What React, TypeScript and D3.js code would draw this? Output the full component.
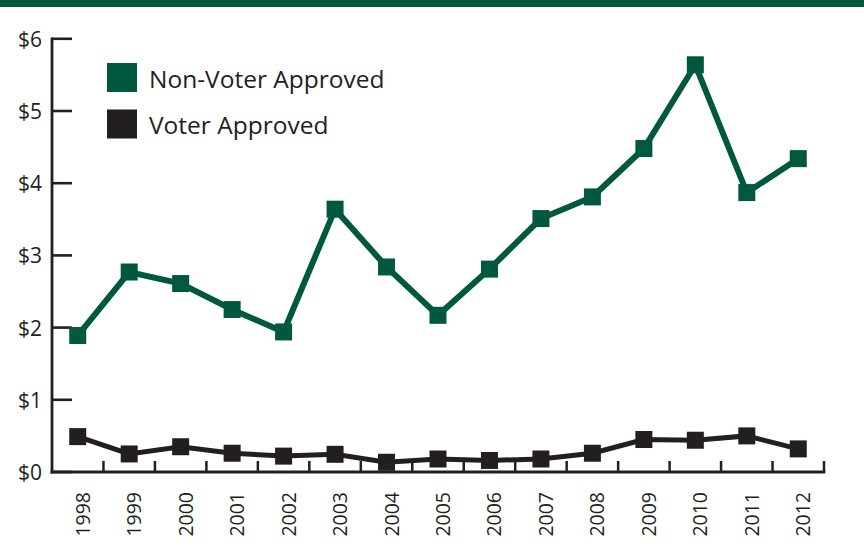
import React from "react";
import * as d3 from "d3";

// Annual totals, in billions of dollars
const years: string[] = [
  "1998", "1999", "2000", "2001", "2002", "2003", "2004", "2005",
  "2006", "2007", "2008", "2009", "2010", "2011", "2012",
];
const nonVoterApproved: number[] = [
  1.89, 2.77, 2.61, 2.25, 1.94, 3.64, 2.84, 2.17, 2.81, 3.51, 3.81, 4.48, 5.64, 3.87, 4.34,
];
const voterApproved: number[] = [
  0.49, 0.25, 0.35, 0.26, 0.22, 0.245, 0.135, 0.18, 0.16, 0.18, 0.26, 0.45, 0.44, 0.5, 0.32,
];
const yTicks: number[] = [0, 1, 2, 3, 4, 5, 6];
const seriesNames: string[] = ["Non-Voter Approved", "Voter Approved"];

const W = 864;
const H = 557;
const GREEN = "#00583F";
const DARK = "#231F20";
const FONT = "'Open Sans', 'Liberation Sans', Arial, sans-serif";

export default function App() {
  const x = d3.scaleBand<string>().domain(years).range([52, 824]).padding(0);
  const y = d3.scaleLinear().domain([0, 6]).range([472, 38.8]);
  const cx = (yr: string) => (x(yr) as number) + x.bandwidth() / 2;

  const line = d3
    .line<[string, number]>()
    .x((d) => cx(d[0]))
    .y((d) => y(d[1]));

  const series = [
    { name: seriesNames[0], values: nonVoterApproved, color: GREEN, width: 6 },
    { name: seriesNames[1], values: voterApproved, color: DARK, width: 5 },
  ];

  const marker = 17;
  const x0 = x.range()[0];
  const x1 = x.range()[1];
  const yBase = y(0);

  return (
    <svg
      width={W}
      height={H}
      viewBox={`0 0 ${W} ${H}`}
      style={{ position: "absolute", left: 0, top: 0, display: "block", background: "#fff" }}
    >
      {/* header band */}
      <rect x={0} y={0} width={W} height={7} fill={GREEN} />

      {/* y axis */}
      <line x1={x0} x2={x0} y1={y(6) - 1.3} y2={yBase + 1.5} stroke={DARK} strokeWidth={2.8} />
      {yTicks.map((t) => (
        <g key={t}>
          <line x1={x0} x2={x0 + 20} y1={y(t)} y2={y(t)} stroke={DARK} strokeWidth={2.6} />
          <text
            x={42}
            y={y(t)}
            textAnchor="end"
            dominantBaseline="central"
            fontFamily={FONT}
            fontSize={21}
            fill={DARK}
          >
            {`$${t}`}
          </text>
        </g>
      ))}

      {/* x axis */}
      <line x1={x0 - 1.4} x2={x1 + 1.3} y1={yBase} y2={yBase} stroke={DARK} strokeWidth={3} />
      {years.slice(1).map((yr) => (
        <line
          key={`t${yr}`}
          x1={x(yr) as number}
          x2={x(yr) as number}
          y1={yBase}
          y2={yBase - 11}
          stroke={DARK}
          strokeWidth={2.5}
        />
      ))}
      <line x1={x1} x2={x1} y1={yBase} y2={yBase - 11} stroke={DARK} strokeWidth={2.5} />
      {years.map((yr) => (
        <text
          key={`l${yr}`}
          transform={`translate(${cx(yr) + 4.5},${492}) rotate(-90)`}
          textAnchor="end"
          dominantBaseline="central"
          fontFamily={FONT}
          fontSize={19.5}
          fill={DARK}
        >
          {yr}
        </text>
      ))}

      {/* series */}
      {series.map((s) => {
        const pts = years.map((yr, i) => [yr, s.values[i]] as [string, number]);
        return (
          <g key={s.name}>
            <path
              d={line(pts) as string}
              fill="none"
              stroke={s.color}
              strokeWidth={s.width}
              strokeLinejoin="miter"
            />
            {pts.map((p) => (
              <rect
                key={p[0]}
                x={cx(p[0]) - marker / 2}
                y={y(p[1]) - marker / 2}
                width={marker}
                height={marker}
                fill={s.color}
              />
            ))}
          </g>
        );
      })}

      {/* legend */}
      {series.map((s, i) => (
        <g key={`lg${s.name}`} transform={`translate(107,${63 + i * 46.5})`}>
          <rect x={0} y={0} width={30} height={29} fill={s.color} />
          <text
            x={42}
            y={24.5}
            fontFamily={FONT}
            fontSize={24.5}
            fill={DARK}
          >
            {s.name}
          </text>
        </g>
      ))}
    </svg>
  );
}
